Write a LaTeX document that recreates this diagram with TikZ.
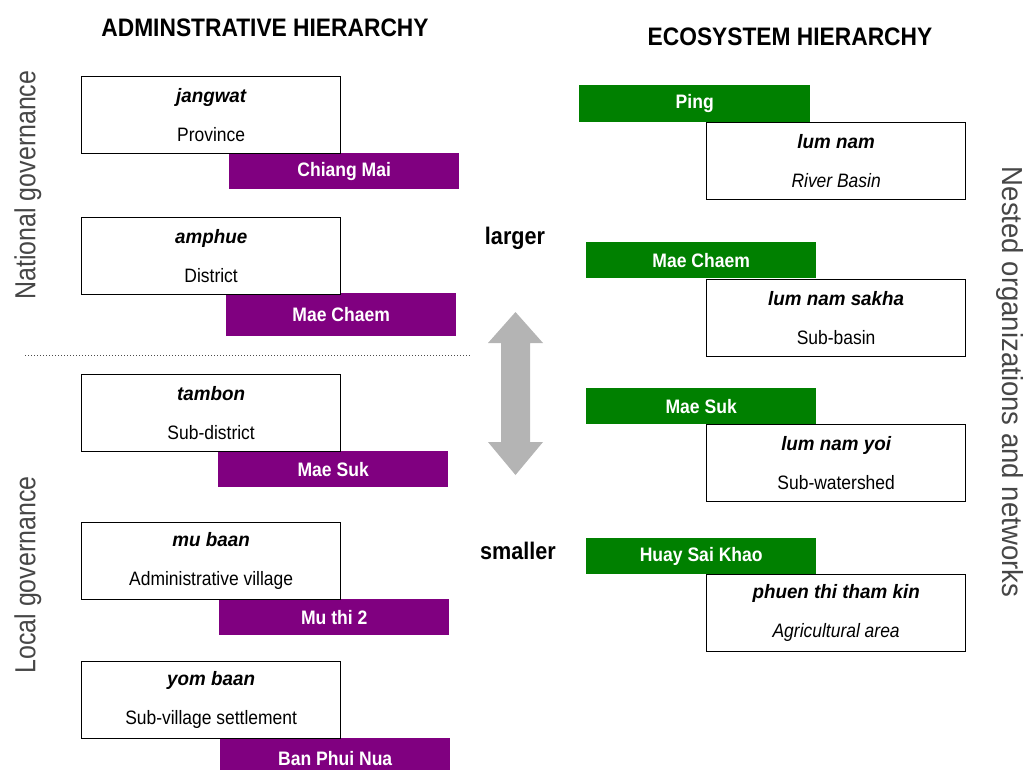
\documentclass[tikz,border=0pt]{standalone}
\usepackage{fontspec}
\setmainfont{Liberation Sans}
\newfontfamily\condfont[FakeStretch=0.9]{Liberation Sans}
\newfontfamily\namefont[FakeStretch=0.97]{Liberation Sans}
\newfontfamily\sidefont[FakeStretch=0.86]{Liberation Sans}
\newfontfamily\sidewidefont[FakeStretch=0.95]{Liberation Sans}
\definecolor{tagpurple}{RGB}{128,0,128}
\definecolor{taggreen}{RGB}{0,128,0}
\definecolor{arrowgray}{RGB}{180,180,180}
\definecolor{sidegray}{RGB}{70,70,70}
\newcommand{\nm}[1]{{\namefont\bfseries\itshape #1}}
\tikzset{
  lvlbox/.style={draw=black, line width=1.3pt, fill=white, anchor=north west,
    minimum width=259pt, minimum height=77pt, inner sep=0pt, align=center,
    font=\condfont\fontsize{19.4}{39}\selectfont},
  tagbase/.style={anchor=north west, minimum width=230pt, minimum height=36pt,
    inner sep=0pt, text=white, font=\condfont\bfseries\fontsize{19.5}{21}\selectfont},
  admintag/.style={tagbase, fill=tagpurple},
  ecotag/.style={tagbase, fill=taggreen},
  heading/.style={font=\condfont\bfseries\fontsize{25.3}{28}\selectfont},
  scalelbl/.style={font=\condfont\bfseries\fontsize{24}{27}\selectfont},
  sidelbl/.style={font=\sidefont\fontsize{29}{32}\selectfont, text=sidegray, inner sep=0pt}
}
\begin{document}
\begin{tikzpicture}[x=1pt, y=-1pt]
\useasboundingbox (0,0) rectangle (1025,769);

% column headings
\node[heading] (hadm) at (265,27.5) {ADMINSTRATIVE HIERARCHY};
\node[heading] (heco) at (790,37) {ECOSYSTEM HIERARCHY};

% side labels
\node[sidelbl, rotate=90] (natl) at (28,185) {National governance};
\node[sidelbl, rotate=90] (locl) at (28,575) {Local governance};
\node[sidelbl, font=\sidewidefont\fontsize{29}{32}\selectfont, rotate=-90] (nest) at (1010,382)
  {Nested organizations and networks};

% boundary between national and local levels
\draw[black!70, line width=1pt, dotted] (25,355.5) coordinate (dl) -- (470,355.5) coordinate (dr);

% administrative levels: name tag under each box
\node[admintag] (t1) at (229,153) {Chiang Mai};
\node[lvlbox] (a1) at (81,76) {\nm{jangwat}\\Province};
\node[admintag, minimum height=43pt] (t2) at (226,293) {Mae Chaem};
\node[lvlbox] (a2) at (81,217) {\nm{amphue}\\District};
\node[admintag] (t3) at (218,451) {Mae Suk};
\node[lvlbox] (a3) at (81,374) {\nm{tambon}\\Sub-district};
\node[admintag] (t4) at (219,599) {Mu thi 2};
\node[lvlbox] (a4) at (81,522) {\nm{mu baan}\\Administrative village};
\node[admintag, minimum height=40pt] (t5) at (220,738) {Ban Phui Nua};
\node[lvlbox] (a5) at (81,661) {\nm{yom baan}\\Sub-village settlement};

% ecosystem levels: name tag above each box
\node[ecotag, minimum width=231pt, minimum height=37pt] (g1) at (579,85) {Ping};
\node[lvlbox] (e1) at (706,122) {\nm{lum nam}\\\itshape River Basin};
\node[ecotag] (g2) at (586,242) {Mae Chaem};
\node[lvlbox] (e2) at (706,279) {\nm{lum nam sakha}\\Sub-basin};
\node[ecotag] (g3) at (586,388) {Mae Suk};
\node[lvlbox] (e3) at (706,424) {\nm{lum nam yoi}\\Sub-watershed};
\node[ecotag] (g4) at (586,538) {Huay Sai Khao};
\node[lvlbox] (e4) at (706,574) {\nm{phuen thi tham kin}\\\itshape Agricultural area};

% scale indicator
\node[scalelbl] (lg) at (515,238) {larger};
\node[scalelbl] (sm) at (518,551) {smaller};
\fill[arrowgray] (515.5,312) -- (543,343) -- (530,343) -- (530,442) -- (543,442)
  -- (515.5,475) -- (488,442) -- (501,442) -- (501,343) -- (488,343) -- cycle;
\end{tikzpicture}
\end{document}
